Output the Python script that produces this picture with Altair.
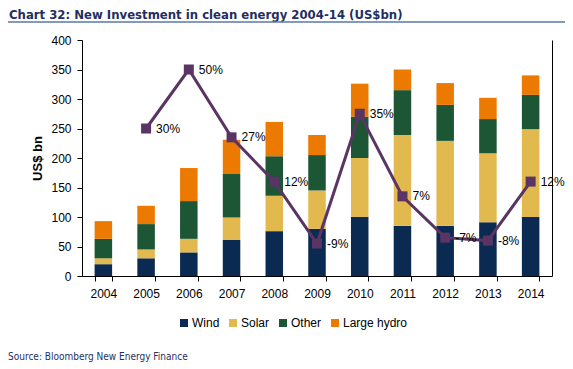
import altair as alt
import pandas as pd

years = ["2004", "2005", "2006", "2007", "2008", "2009", "2010", "2011", "2012", "2013", "2014"]
wind = [20, 30, 40, 61, 76, 80, 100, 85, 85, 91, 100]
solar = [10, 15, 23, 38, 60, 65, 100, 154, 144, 117, 149]
other = [33, 43, 64, 74, 67, 60, 70, 76, 61, 58, 58]
hydro = [30, 31, 56, 58, 58, 34, 56, 35, 37, 36, 33]
sources = ["Wind", "Solar", "Other", "Large hydro"]
colors = ["#0B2A52", "#E1B94E", "#1C5634", "#EC7A00"]

growth_years = ["2005", "2006", "2007", "2008", "2009", "2010", "2011", "2012", "2013", "2014"]
growth = [30, 50, 27, 12, -9, 35, 7, -7, -8, 12]
growth_labels = ["30%", "50%", "27%", "12%", "-9%", "35%", "7%", "-7%", "-8%", "12%"]

title_text = "Chart 32: New Investment in clean energy 2004-14 (US$bn)"
source_text = "Source: Bloomberg New Energy Finance"

FONT = "Liberation Sans"
NARROW = "Liberation Sans Narrow, DejaVu Sans Condensed, Roboto, sans-serif"
PURPLE = "#5A3464"
NAVY = "#1F2F5F"

rows = []
for i, y in enumerate(years):
    for k, (s, vals) in enumerate(zip(sources, [wind, solar, other, hydro])):
        rows.append({"year": y, "source": s, "value": vals[i], "order": k})
df = pd.DataFrame(rows)

gdf = pd.DataFrame({"year": growth_years, "growth": growth, "label": growth_labels})

xenc = alt.X(
    "year:N",
    sort=years,
    scale=alt.Scale(paddingInner=0.59, paddingOuter=0.295),
    axis=alt.Axis(
        title=None, labelAngle=0, tickBand="extent", grid=False,
        domainColor="black", tickColor="black", tickSize=5,
        labelFont=FONT, labelFontSize=12, labelColor="black", labelPadding=7,
    ),
)

bars = alt.Chart(df).mark_bar().encode(
    x=xenc,
    y=alt.Y(
        "value:Q",
        stack="zero",
        scale=alt.Scale(domain=[0, 400]),
        axis=alt.Axis(
            values=list(range(0, 401, 50)), grid=False, title="US$ bn",
            titleFont=FONT, titleFontSize=13, titleFontWeight="bold", titleColor="black",
            titlePadding=6, domainColor="black", tickColor="black", tickSize=5,
            labelFont=FONT, labelFontSize=12, labelColor="black", labelPadding=6,
        ),
    ),
    color=alt.Color(
        "source:N",
        scale=alt.Scale(domain=sources, range=colors),
        legend=alt.Legend(
            title=None, orient="none", direction="horizontal", legendX=96, legendY=277,
            symbolType="square", symbolSize=64, symbolStrokeWidth=0, labelFont=FONT,
            labelFontSize=12, labelColor="black", labelOffset=2, columnPadding=7, padding=0,
        ),
    ),
    order=alt.Order("order:Q"),
)

gbase = alt.Chart(gdf).encode(
    x=alt.X("year:N", sort=years),
    y=alt.Y(
        "growth:Q",
        scale=alt.Scale(domain=[-20, 60]),
        axis=alt.Axis(title=None, labels=False, ticks=False, grid=False, domainColor="black"),
    ),
)
gline = gbase.mark_line(color=PURPLE, strokeWidth=3)
gpts = gbase.mark_square(size=100, color=PURPLE, opacity=1)
gtxt = gbase.mark_text(align="left", dx=10, font=FONT, fontSize=12, color="black").encode(text="label:N")
glayer = alt.layer(gline, gpts, gtxt)

ttl = alt.Chart(pd.DataFrame({"t": [title_text]})).mark_text(
    align="left", baseline="alphabetic", font=NARROW, fontSize=13, fontWeight="bold", color=NAVY
).encode(x=alt.value(-73), y=alt.value(-21.5), text="t:N")

uline = alt.Chart(pd.DataFrame({"t": [0]})).mark_rule(color="#5B77A8", strokeWidth=1.5).encode(
    x=alt.value(-74), x2=alt.value(483), y=alt.value(-18)
)

src = alt.Chart(pd.DataFrame({"t": [source_text]})).mark_text(
    align="left", baseline="middle", font=NARROW, fontSize=10, color=NAVY
).encode(x=alt.value(-74), y=alt.value(317), text="t:N")

chart = alt.layer(bars, glayer, ttl, uline, src).resolve_scale(y="independent").properties(
    width=470,
    height=236,
    padding={"left": 74, "top": 32, "right": 13, "bottom": 89},
    autosize=alt.AutoSizeParams(type="none"),
).configure_view(stroke=None)

chart.save("out.html", embed_options={"renderer": "svg", "actions": False})
